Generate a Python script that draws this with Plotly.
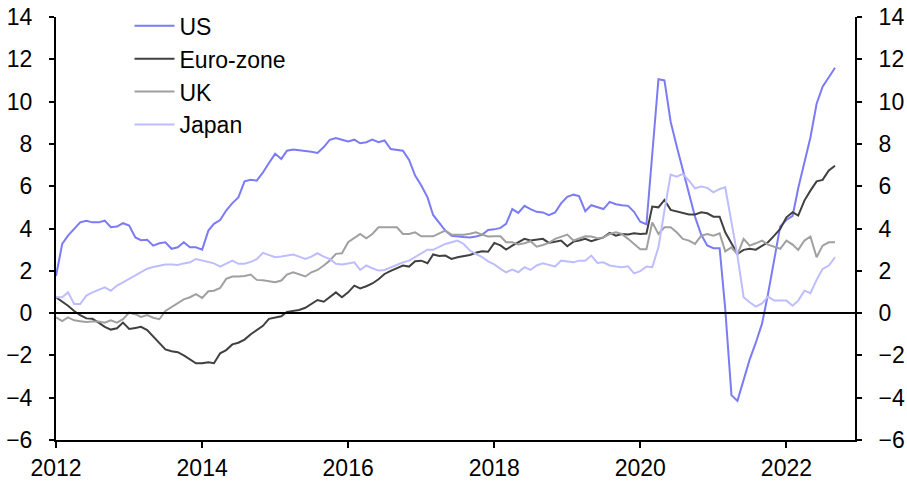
import pandas as pd
import plotly.graph_objects as go

dates = pd.date_range("2012-01-01", periods=129, freq="MS")

us = [1.75, 3.27, 3.66, 3.98, 4.29, 4.37, 4.29, 4.29, 4.37, 4.06, 4.09, 4.25,
      4.14, 3.58, 3.45, 3.47, 3.19, 3.3, 3.35, 3.04, 3.11, 3.35, 3.11, 3.11,
      3.0, 3.9, 4.22, 4.4, 4.85, 5.2, 5.47, 6.23, 6.3, 6.26, 6.65, 7.1,
      7.53, 7.29, 7.68, 7.73, 7.7, 7.68, 7.63, 7.57, 7.85, 8.19, 8.28, 8.2,
      8.12, 8.2, 8.03, 8.08, 8.2, 8.08, 8.16, 7.76, 7.72, 7.68, 7.24, 6.5,
      6.03, 5.47, 4.64, 4.29, 3.9, 3.66, 3.62, 3.6, 3.58, 3.62, 3.7, 3.93,
      3.96, 4.03, 4.22, 4.92, 4.74, 5.07, 4.92, 4.79, 4.76, 4.63, 4.76, 5.19,
      5.5, 5.6, 5.53, 4.82, 5.1, 5.0, 4.92, 5.26, 5.15, 5.1, 5.07, 4.79,
      4.32, 4.2, 7.6, 11.06, 11.0, 9.05, 7.9, 6.76, 5.65, 4.55, 3.7, 3.2,
      3.07, 3.07, 0.2, -3.88, -4.15, -3.2, -2.2, -1.4, -0.5, 0.9, 2.6, 4.1,
      4.4, 4.6, 5.9, 7.2, 8.3, 9.9, 10.7, 11.15, 11.6]

euro = [0.75, 0.55, 0.35, 0.1, -0.1, -0.25, -0.27, -0.45, -0.65, -0.78, -0.72, -0.45,
        -0.75, -0.7, -0.65, -0.8, -1.1, -1.4, -1.72, -1.8, -1.85, -2.0, -2.2, -2.37,
        -2.37, -2.33, -2.37, -1.9, -1.75, -1.48, -1.4, -1.25, -1.0, -0.8, -0.6, -0.27,
        -0.22, -0.15, 0.06, 0.1, 0.15, 0.25, 0.45, 0.62, 0.54, 0.75, 0.98, 0.75,
        0.98, 1.3, 1.17, 1.27, 1.4, 1.6, 1.85, 2.0, 2.14, 2.25, 2.2, 2.45,
        2.48, 2.36, 2.77, 2.7, 2.72, 2.56, 2.64, 2.68, 2.75, 2.85, 2.92, 2.9,
        3.32, 3.2, 3.0, 3.19, 3.35, 3.51, 3.43, 3.47, 3.51, 3.32, 3.38, 3.43,
        3.16, 3.38, 3.43, 3.51, 3.4, 3.51, 3.58, 3.79, 3.66, 3.74, 3.72, 3.77,
        3.74, 3.76, 5.04, 5.0, 5.35, 4.88, 4.81, 4.72, 4.66, 4.66, 4.77, 4.72,
        4.56, 4.56, 3.82, 3.3, 2.8, 2.99, 3.04, 3.0, 3.19, 3.35, 3.66, 3.98,
        4.53, 4.77, 4.61, 5.32, 5.79, 6.23, 6.3, 6.74, 6.97]

uk = [-0.2, -0.38, -0.2, -0.34, -0.38, -0.42, -0.4, -0.4, -0.45, -0.34, -0.45, -0.29,
      0.02, -0.05, -0.18, -0.09, -0.22, -0.29, 0.1, 0.29, 0.49, 0.65, 0.75, 0.9,
      0.72, 1.03, 1.06, 1.19, 1.62, 1.73, 1.73, 1.75, 1.82, 1.57, 1.55, 1.5,
      1.46, 1.54, 1.82, 1.93, 1.82, 1.73, 1.93, 2.04, 2.25, 2.48, 2.8, 2.83,
      3.35, 3.54, 3.74, 3.54, 3.74, 4.06, 4.06, 4.06, 4.06, 3.74, 3.74, 3.82,
      3.63, 3.63, 3.63, 3.77, 3.9, 3.71, 3.71, 3.71, 3.75, 3.82, 3.71, 3.62,
      3.63, 3.63, 3.35, 3.35, 3.24, 3.3, 3.4, 3.14, 3.22, 3.32, 3.51, 3.62,
      3.71, 3.43, 3.54, 3.63, 3.62, 3.54, 3.58, 3.74, 3.82, 3.74, 3.51, 3.27,
      3.02, 3.02, 4.29, 3.74, 4.06, 4.06, 3.82, 3.51, 3.43, 3.27, 3.66, 3.74,
      3.66, 3.77, 2.92, 3.11, 2.77, 3.51, 3.19, 3.3, 3.43, 3.24, 3.14, 3.04,
      3.43, 3.24, 2.99, 3.43, 3.62, 2.64, 3.19, 3.35, 3.35]

japan = [0.75, 0.75, 0.98, 0.43, 0.43, 0.83, 0.98, 1.11, 1.22, 1.06, 1.3, 1.45,
         1.62, 1.8, 1.95, 2.1, 2.18, 2.25, 2.3, 2.3, 2.28, 2.35, 2.4, 2.56,
         2.48, 2.4, 2.35, 2.2, 2.34, 2.48, 2.33, 2.33, 2.42, 2.55, 2.85, 2.75,
         2.64, 2.68, 2.72, 2.77, 2.67, 2.56, 2.67, 2.83, 2.67, 2.56, 2.33, 2.3,
         2.35, 2.4, 2.04, 2.25, 2.12, 2.01, 2.04, 2.17, 2.27, 2.4, 2.48, 2.65,
         2.8, 3.0, 2.99, 3.15, 3.27, 3.35, 3.43, 3.27, 2.96, 2.8, 2.65, 2.45,
         2.3, 2.09, 1.93, 2.06, 1.93, 2.17, 2.04, 2.25, 2.36, 2.28, 2.2, 2.48,
         2.45, 2.4, 2.48, 2.48, 2.72, 2.37, 2.4, 2.25, 2.2, 2.17, 2.21, 1.88,
         1.98, 2.2, 2.17, 3.11, 4.85, 6.55, 6.45, 6.58, 6.26, 5.9, 5.98, 5.92,
         5.71, 5.87, 5.95, 4.37, 2.72, 0.75, 0.51, 0.31, 0.46, 0.78, 0.59, 0.59,
         0.59, 0.35, 0.59, 1.06, 0.94, 1.57, 2.09, 2.25, 2.64]

series_names = ["US", "Euro-zone", "UK", "Japan"]
series_values = [us, euro, uk, japan]
series_colors = ["#7B7BF5", "#404040", "#A0A0A0", "#BDBDFF"]

y_ticks = list(range(-6, 15, 2))
x_ticks = ["2012-01-01", "2014-01-01", "2016-01-01", "2018-01-01", "2020-01-01", "2022-01-01"]
x_tick_labels = ["2012", "2014", "2016", "2018", "2020", "2022"]

FONT = "Liberation Sans, Arial, sans-serif"

fig = go.Figure()
for name, vals, col in zip(series_names, series_values, series_colors):
    fig.add_trace(go.Scatter(x=dates, y=vals, name=name, mode="lines",
                             line=dict(color=col, width=2), legendgroup=name))

# invisible trace to carry the right-hand axis
fig.add_trace(go.Scatter(x=dates, y=us, yaxis="y2", mode="lines",
                         line=dict(width=0, color="rgba(0,0,0,0)"),
                         showlegend=False, hoverinfo="skip"))

axis_common = dict(range=[-6, 14], tickvals=y_ticks, showgrid=False, zeroline=False,
                   showline=True, linecolor="black", linewidth=2, automargin=False,
                   ticks="outside", ticklen=5, tickwidth=2, tickcolor="black",
                   tickfont=dict(size=23, color="black", family=FONT))

fig.update_layout(
    width=907, height=482,
    margin=dict(l=56, r=52, t=17, b=42, autoexpand=False),
    plot_bgcolor="white", paper_bgcolor="white",
    font=dict(family=FONT, size=23, color="black"),
    xaxis=dict(type="date", range=["2012-01-01", "2022-12-10"],
               tickvals=x_ticks, ticktext=x_tick_labels, automargin=False,
               showgrid=False, zeroline=False, showline=True, linecolor="black", linewidth=2,
               ticks="outside", ticklen=6, tickwidth=2, tickcolor="black",
               tickfont=dict(size=23, color="black", family=FONT)),
    yaxis=dict(**axis_common, side="left", ticklabelstandoff=12),
    yaxis2=dict(**axis_common, side="right", overlaying="y", ticklabelstandoff=12),
    legend=dict(x=0.092, y=1.03, xanchor="left", yanchor="top",
                bgcolor="rgba(0,0,0,0)", font=dict(size=23, color="black", family=FONT),
                tracegroupgap=0, itemwidth=40),
    showlegend=True,
)

fig.add_hline(y=0, line=dict(color="black", width=2))

fig.write_html("out.html", config={"displayModeBar": False},
               post_script="document.body.style.margin='0px';document.body.style.overflow='hidden';")
